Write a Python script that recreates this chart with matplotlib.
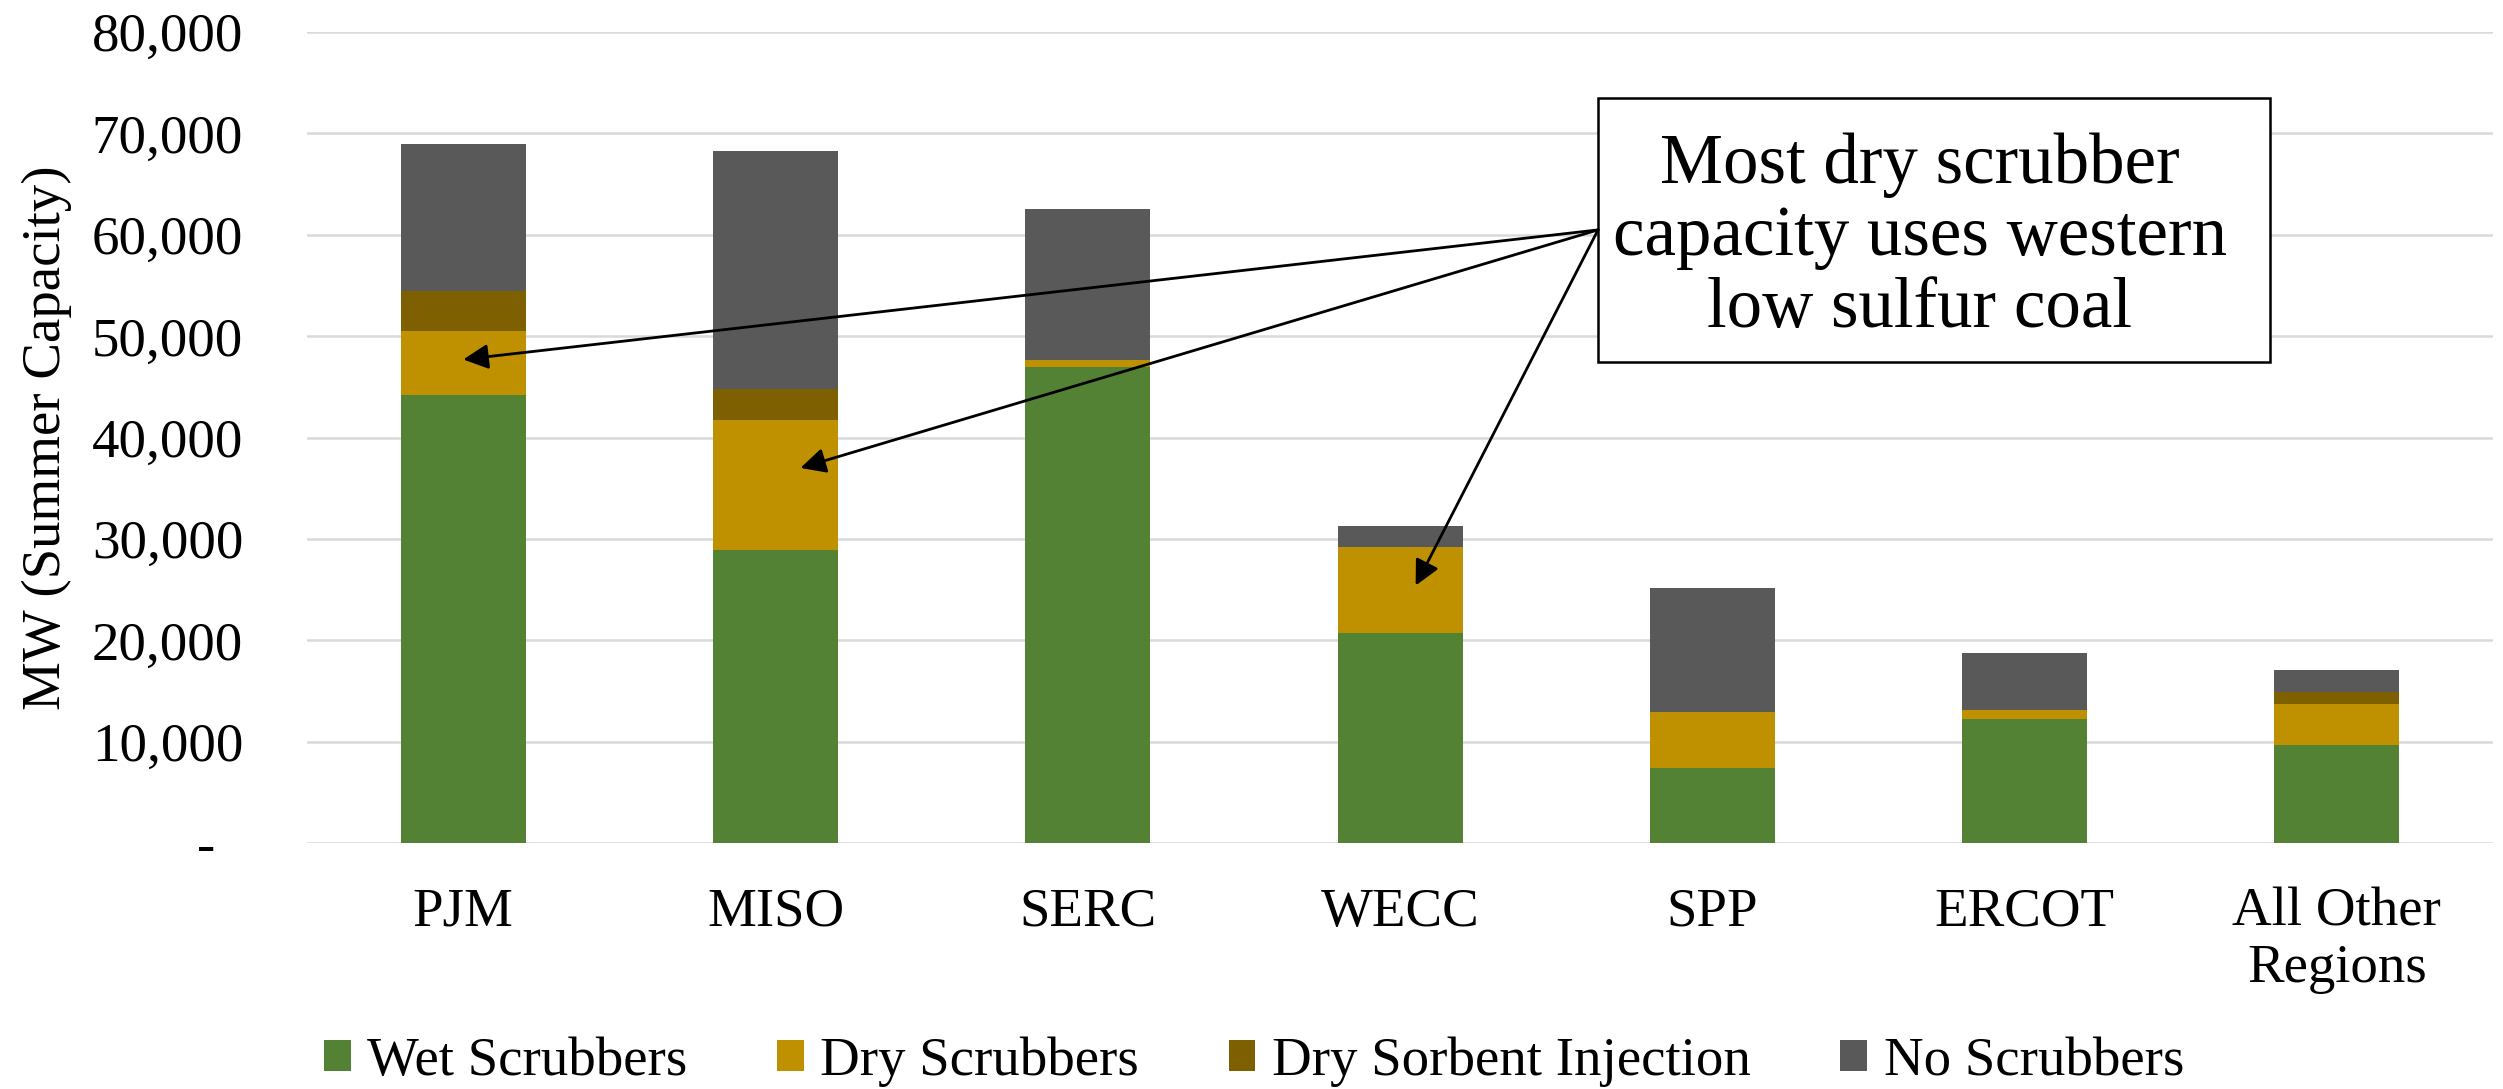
import matplotlib.pyplot as plt
from matplotlib.patches import Rectangle
from matplotlib.ticker import FuncFormatter

FONT = ["Liberation Serif", "DejaVu Serif"]
plt.rcParams['font.family'] = 'serif'
plt.rcParams['font.serif'] = FONT

regions = ["PJM", "MISO", "SERC", "WECC", "SPP", "ERCOT", "All Other\nRegions"]
wet = [44200, 28900, 47000, 20700, 7400, 12250, 9700]
dry = [6300, 12800, 600, 8450, 5550, 900, 4000]
dsi = [4000, 3100, 0, 0, 0, 0, 1200]
none = [14500, 23450, 14900, 2150, 12200, 5550, 2150]

series = [("Wet Scrubbers", wet, "#548235"),
          ("Dry Scrubbers", dry, "#BF9000"),
          ("Dry Sorbent Injection", dsi, "#7F6000"),
          ("No Scrubbers", none, "#595959")]

fig = plt.figure(figsize=(25.03, 10.89), dpi=100)
ax = fig.add_axes([0.1227, 0.2259, 0.8733, 0.7447])

x = range(len(regions))
bottom = [0] * len(regions)
for name, vals, col in series:
    ax.bar(x, vals, width=0.4, bottom=bottom, color=col, label=name, zorder=3)
    bottom = [b + v for b, v in zip(bottom, vals)]

ax.set_xlim(-0.5, 6.5)
ax.set_ylim(0, 80000)
ax.set_yticks(range(0, 80001, 10000))
ax.yaxis.set_major_formatter(FuncFormatter(lambda v, p: "-  " if v == 0 else f"{int(v):,}"))
ax.set_xticks(list(x))
ax.set_xticklabels(regions, linespacing=1.15)
ax.grid(axis="y", color="#d9d9d9", lw=1.8, zorder=0)
for s in ax.spines.values():
    s.set_visible(False)
ax.tick_params(axis="both", length=0, labelsize=39.5)
ax.tick_params(axis="y", pad=46)
ax.tick_params(axis="x", pad=32)
for lab in ax.get_xticklabels() + ax.get_yticklabels():
    lab.set_family(FONT)
ax.set_ylabel("MW (Summer Capacity)", fontsize=39.5, family=FONT)
ax.yaxis.set_label_coords(-0.1075, 0.5)

# callout box
ax.add_patch(Rectangle((3.634, 47440), 5.786 - 3.634, 73470 - 47440, transform=ax.transData,
                       facecolor="white", edgecolor="black", lw=1.8, zorder=5, clip_on=False))
ax.text(4.664, 59800, "Most dry scrubber\ncapacity uses western\nlow sulfur coal", ha="center", va="center",
        fontsize=51, linespacing=1.14, zorder=6, family=FONT)
origin = (3.634, 60480)
for tip in [(0.0, 47700), (1.08, 37000), (3.05, 25400)]:
    ax.annotate("", xy=tip, xytext=origin, zorder=7,
                arrowprops=dict(arrowstyle="-|>", color="black", lw=2, mutation_scale=38,
                                shrinkA=0, shrinkB=0))

fig.legend(loc="center", bbox_to_anchor=(0.501, 0.025), ncol=4, frameon=False,
           prop={"family": FONT, "size": 39.5},
           handlelength=0.49, handleheight=0.49, handletextpad=0.3, columnspacing=1.63)

fig.savefig("out.png", dpi=100)
